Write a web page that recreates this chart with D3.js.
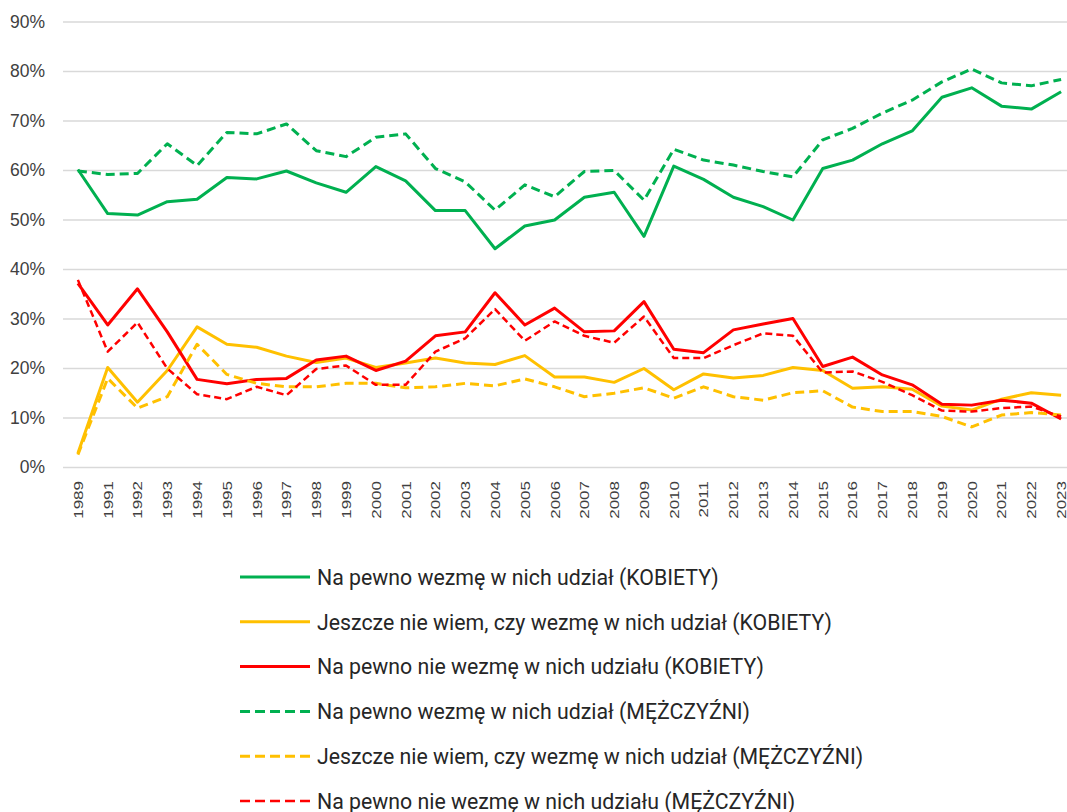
<!DOCTYPE html>
<html>
<head>
<meta charset="utf-8">
<script src="https://cdn.jsdelivr.net/npm/d3@7"></script>
<style>
  body { margin: 0; background: #fff; }
  svg { display: block; font-family: Roboto, "Noto Sans", sans-serif; }
</style>
</head>
<body>
<svg id="chart" width="1067" height="812"></svg>
<script>
// DATA
const years = ["1989","1991","1992","1993","1994","1995","1996","1997","1998","1999","2000","2001","2002","2003","2004","2005","2006","2007","2008","2009","2010","2011","2012","2013","2014","2015","2016","2017","2018","2019","2020","2021","2022","2023"];

const womenYes = [60.1,51.2,50.9,53.6,54.1,58.5,58.2,59.8,57.4,55.5,60.7,57.8,51.8,51.8,44.1,48.7,49.9,54.5,55.5,46.6,60.8,58.1,54.5,52.6,49.9,60.3,62.0,65.3,67.9,74.7,76.6,72.9,72.3,75.8];
const womenUnsure = [2.8,20.1,13.1,19.5,28.3,24.8,24.2,22.4,21.1,22.0,20.1,21.0,22.0,21.0,20.7,22.5,18.2,18.2,17.1,19.9,15.6,18.8,18.0,18.5,20.1,19.5,15.9,16.2,15.7,12.3,11.5,13.7,15.0,14.5];
const womenNo = [37.1,28.7,36.0,27.3,17.7,16.8,17.7,17.9,21.6,22.4,19.5,21.4,26.5,27.3,35.2,28.7,32.1,27.3,27.5,33.4,23.8,23.1,27.7,28.9,30.0,20.3,22.2,18.6,16.6,12.7,12.5,13.5,12.9,9.7];
const menYes = [59.8,59.1,59.3,65.3,60.9,67.6,67.3,69.3,63.9,62.7,66.6,67.3,60.3,57.6,51.9,57.0,54.6,59.7,59.9,53.9,64.2,62.0,61.0,59.7,58.6,66.1,68.4,71.5,74.1,77.8,80.4,77.6,77.0,78.3];
const menUnsure = [2.5,17.9,11.9,14.2,24.8,18.7,16.9,16.2,16.2,16.9,16.9,16.0,16.2,16.9,16.4,17.8,16.2,14.2,14.9,16.0,13.9,16.2,14.2,13.5,15.0,15.4,12.1,11.2,11.2,10.2,8.1,10.5,11.0,10.5];
const menNo = [37.8,23.3,29.2,19.9,14.7,13.7,16.2,14.5,19.8,20.5,16.6,16.6,23.3,26.0,31.9,25.5,29.4,26.5,25.1,30.4,22.0,22.0,24.6,27.0,26.5,19.1,19.3,17.2,14.5,11.4,11.2,11.9,12.2,10.2];

const seriesNames = [
    "Na pewno wezmę w nich udział (KOBIETY)",
    "Jeszcze nie wiem, czy wezmę w nich udział (KOBIETY)",
    "Na pewno nie wezmę w nich udziału (KOBIETY)",
    "Na pewno wezmę w nich udział (MĘŻCZYŹNI)",
    "Jeszcze nie wiem, czy wezmę w nich udział (MĘŻCZYŹNI)",
    "Na pewno nie wezmę w nich udziału (MĘŻCZYŹNI)"
];
const yTicks = [0,10,20,30,40,50,60,70,80,90];

// SERIES STYLES
const series = [
    {name: seriesNames[0], values: womenYes, color: "#00b050", dash: null, width: 3},
    {name: seriesNames[1], values: womenUnsure, color: "#ffc000", dash: null, width: 3},
    {name: seriesNames[2], values: womenNo, color: "#ff0000", dash: null, width: 3},
    {name: seriesNames[3], values: menYes, color: "#00b050", dash: "9,5", width: 3},
    {name: seriesNames[4], values: menUnsure, color: "#ffc000", dash: "9,5", width: 3},
    {name: seriesNames[5], values: menNo, color: "#ff0000", dash: "7,4", width: 2.5}
];

const svg = d3.select("#chart");

// SCALES
const x = d3.scalePoint()
    .domain(years)
    .range([63, 1076])
    .padding(0.5);

const y = d3.scaleLinear()
    .domain([0, 90])
    .range([467, 21.5]);

// GRID + Y AXIS
const yAxis = svg.append("g")
    .attr("transform", "translate(63,0)")
    .call(d3.axisLeft(y).tickValues(yTicks).tickSize(-1013).tickFormat(d => d + "%").tickPadding(18));

yAxis.select(".domain").remove();
yAxis.selectAll(".tick line").attr("stroke", "#d9d9d9").attr("stroke-width", 1.5);
yAxis.selectAll(".tick text")
    .attr("fill", "#404040")
    .attr("font-size", 17.5);

// X AXIS LABELS (narrow glyphs, rotated)
const xAxis = svg.append("g")
    .attr("transform", "translate(0,467)")
    .call(d3.axisBottom(x).tickSize(0));

xAxis.select(".domain").remove();
xAxis.selectAll(".tick text")
    .attr("fill", "#404040")
    .attr("font-size", 17)
    .attr("text-anchor", "end")
    .attr("transform", "rotate(-90) scale(1,0.74)")
    .attr("x", -14)
    .attr("y", 0)
    .attr("dy", "0.35em");

// LINES
const line = d3.line()
    .x((d, i) => x(years[i]))
    .y(d => y(d));

svg.append("g")
    .selectAll("path")
    .data(series)
    .enter().append("path")
    .attr("d", d => line(d.values))
    .attr("fill", "none")
    .attr("stroke", d => d.color)
    .attr("stroke-width", d => d.width)
    .attr("stroke-dasharray", d => d.dash)
    .attr("stroke-linejoin", "round");

// LEGEND
const legend = svg.append("g")
    .selectAll("g")
    .data(series)
    .enter().append("g")
    .attr("transform", (d, i) => `translate(240,${577 + i * 44.8})`);

legend.append("line")
    .attr("x1", 0)
    .attr("x2", 70)
    .attr("stroke", d => d.color)
    .attr("stroke-width", d => d.width)
    .attr("stroke-dasharray", d => d.dash ? "10,5" : null);

legend.append("text")
    .attr("transform", "translate(77,0) scale(1,1.05)")
    .attr("dy", "0.35em")
    .attr("font-size", 21.3)
    .attr("fill", "#262626")
    .text(d => d.name);
</script>
</body>
</html>
